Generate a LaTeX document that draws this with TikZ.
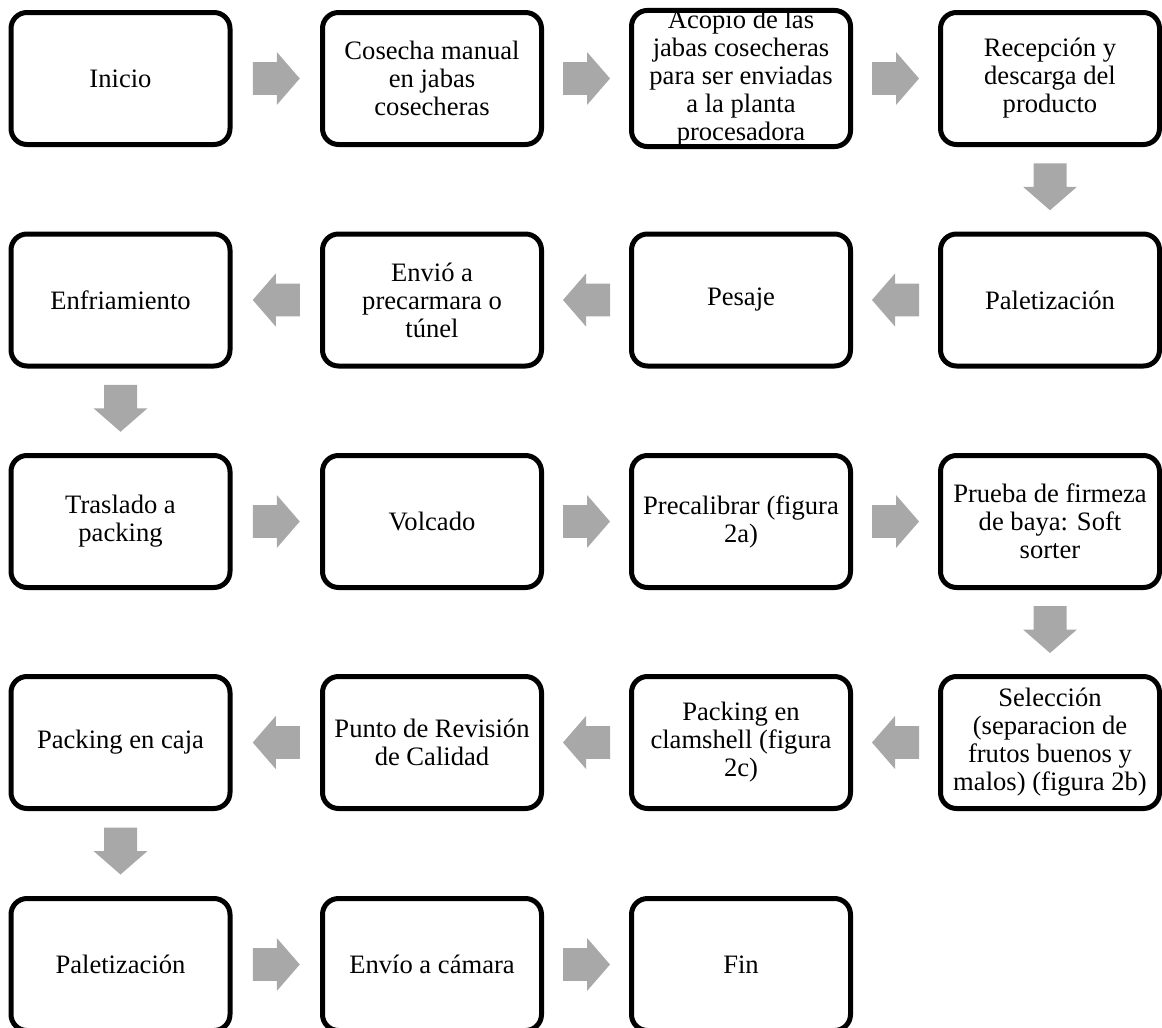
\documentclass[tikz,border=0pt]{standalone}
\usepackage{fontspec}
\setmainfont{Liberation Serif}
\usetikzlibrary{calc}
\definecolor{arrgray}{RGB}{168,168,168}
\tikzset{
  stepbox/.style={draw=black, line width=2.5pt, rounded corners=8pt, fill=white,
    minimum width=109.5pt, minimum height=66pt, inner sep=0pt, align=center,
    font=\fontsize{13.3pt}{14pt}\selectfont},
  rarrow/.pic={\fill[arrgray] (-23.5,-16.3) -- (0.5,-16.3) -- (0.5,-26.5) -- (23.5,0) -- (0.5,26.5) -- (0.5,16.3) -- (-23.5,16.3) -- cycle;},
  larrow/.pic={\fill[arrgray] (23.5,-16.3) -- (-0.5,-16.3) -- (-0.5,-26.5) -- (-23.5,0) -- (-0.5,26.5) -- (-0.5,16.3) -- (23.5,16.3) -- cycle;},
  darrow/.pic={\fill[arrgray] (-16.5,-23.5) -- (-16.5,0) -- (-27,0) -- (0,23.5) -- (27,0) -- (16.5,0) -- (16.5,-23.5) -- cycle;}
}
\newcommand\hconn[3]{\path (#1.east) -- (#2.west) coordinate[midway] (#1#2); \pic at (#1#2) {#3};}
\newcommand\lconn[3]{\path (#1.west) -- (#2.east) coordinate[midway] (#1#2); \pic at (#1#2) {#3};}
\newcommand\dconn[2]{\path (#1.south) -- (#2.north) coordinate[midway] (#1#2); \pic at ($(#1#2)+(0,-2.5)$) {darrow};}
\begin{document}
\begin{tikzpicture}[x=0.5pt,y=-0.5pt]
\clip (0,0) rectangle (1162,1028);
\fill[white] (0,0) rectangle (1162,1028);
% row 1
\node[stepbox] (a1) at (120.5,78.5) {Inicio};
\node[stepbox] (a2) at (432,78.5) {Cosecha manual\\en jabas\\cosecheras};
\node[stepbox] (a3) at (741,78.5) {Acopio de las\\jabas cosecheras\\para ser enviadas\\a la planta\\procesadora};
\node[stepbox] (a4) at (1050,78.5) {Recepción y\\descarga del\\producto};
% row 2
\node[stepbox] (b4) at (1050,300) {Paletización};
\node[stepbox] (b3) at (741,300) {Pesaje};
\node[stepbox] (b2) at (432,300) {Envió a\\precarmara o\\túnel};
\node[stepbox] (b1) at (120.5,300) {Enfriamiento};
% row 3
\node[stepbox] (c1) at (120.5,521.5) {Traslado a\\packing};
\node[stepbox] (c2) at (432,521.5) {Volcado};
\node[stepbox] (c3) at (741,521.5) {Precalibrar (figura\\2a)};
\node[stepbox] (c4) at (1050,521.5) {Prueba de firmeza\\de baya: Soft\\sorter};
% row 4
\node[stepbox] (d4) at (1050,742.5) {Selección\\(separacion de\\frutos buenos y\\malos) (figura 2b)};
\node[stepbox] (d3) at (741,742.5) {Packing en\\clamshell (figura\\2c)};
\node[stepbox] (d2) at (432,742.5) {Punto de Revisión\\de Calidad};
\node[stepbox] (d1) at (120.5,742.5) {Packing en caja};
% row 5
\node[stepbox] (e1) at (120.5,964.5) {Paletización};
\node[stepbox] (e2) at (432,964.5) {Envío a cámara};
\node[stepbox] (e3) at (741,964.5) {Fin};
% connectors
\hconn{a1}{a2}{rarrow}
\hconn{a2}{a3}{rarrow}
\hconn{a3}{a4}{rarrow}
\dconn{a4}{b4}
\lconn{b4}{b3}{larrow}
\lconn{b3}{b2}{larrow}
\lconn{b2}{b1}{larrow}
\dconn{b1}{c1}
\hconn{c1}{c2}{rarrow}
\hconn{c2}{c3}{rarrow}
\hconn{c3}{c4}{rarrow}
\dconn{c4}{d4}
\lconn{d4}{d3}{larrow}
\lconn{d3}{d2}{larrow}
\lconn{d2}{d1}{larrow}
\dconn{d1}{e1}
\hconn{e1}{e2}{rarrow}
\hconn{e2}{e3}{rarrow}
\end{tikzpicture}
\end{document}
